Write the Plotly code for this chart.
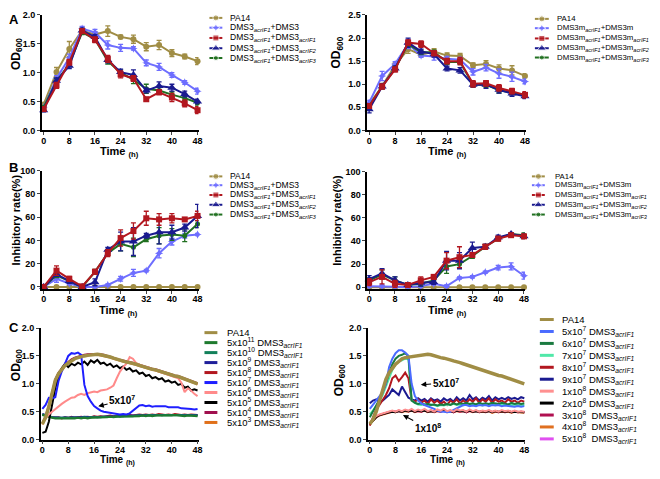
import plotly.graph_objects as go

W, H = 660, 479
# the page body keeps its default 8 px margin, so the figure is drawn 16 px smaller
OX, OY = 8, 8
FW, FH = W - 2 * OX, H - 2 * OY
FONT = "Liberation Sans, Arial, sans-serif"

# ---------------- panel A / B : sampled every 4 h ----------------
hours = [0, 4, 8, 12, 16, 20, 24, 28, 32, 36, 40, 44, 48]

# A left: OD600, DMS3 phages
a1_pa14 = [0.45, 1.01, 1.41, 1.73, 1.66, 1.72, 1.62, 1.58, 1.45, 1.48, 1.34, 1.28, 1.20]
a1_dms3 = [0.40, 0.90, 1.26, 1.76, 1.70, 1.48, 1.43, 1.42, 1.17, 1.10, 0.96, 0.83, 0.68]
a1_f1 = [0.37, 0.78, 1.18, 1.72, 1.57, 1.24, 0.97, 0.90, 0.54, 0.66, 0.57, 0.47, 0.35]
a1_f2 = [0.35, 0.86, 1.12, 1.73, 1.62, 1.22, 1.01, 0.96, 0.69, 0.77, 0.74, 0.63, 0.50]
a1_f3 = [0.40, 0.85, 1.15, 1.70, 1.58, 1.20, 1.00, 0.88, 0.72, 0.69, 0.62, 0.56, 0.48]
a1_pa14_err = [0.03, 0.08, 0.13, 0.06, 0.05, 0.09, 0.03, 0.07, 0.07, 0.08, 0.06, 0.04, 0.06]
a1_dms3_err = [0.03, 0.05, 0.06, 0.04, 0.05, 0.07, 0.06, 0.03, 0.05, 0.06, 0.04, 0.03, 0.05]
a1_f1_err = [0.04, 0.05, 0.05, 0.04, 0.05, 0.06, 0.06, 0.05, 0.03, 0.04, 0.07, 0.06, 0.06]
a1_f2_err = [0.03, 0.05, 0.05, 0.04, 0.04, 0.05, 0.05, 0.09, 0.04, 0.07, 0.06, 0.05, 0.04]
a1_f3_err = [0.03, 0.05, 0.05, 0.04, 0.04, 0.05, 0.05, 0.07, 0.08, 0.05, 0.05, 0.04, 0.04]

# A right: OD600, DMS3m phages
a2_pa14 = [0.56, 0.96, 1.41, 1.76, 1.64, 1.71, 1.62, 1.61, 1.41, 1.44, 1.34, 1.30, 1.18]
a2_dms3m = [0.60, 1.18, 1.44, 1.87, 1.62, 1.60, 1.55, 1.53, 1.27, 1.36, 1.23, 1.16, 1.06]
a2_f1 = [0.53, 0.95, 1.32, 1.90, 1.87, 1.67, 1.50, 1.50, 1.01, 1.02, 0.92, 0.85, 0.77]
a2_f2 = [0.46, 0.95, 1.34, 1.90, 1.71, 1.65, 1.34, 1.30, 0.99, 0.99, 0.88, 0.80, 0.74]
a2_f3 = [0.53, 0.95, 1.34, 1.87, 1.69, 1.69, 1.48, 1.48, 0.99, 0.99, 0.87, 0.82, 0.75]
a2_pa14_err = [0.04, 0.06, 0.05, 0.09, 0.04, 0.06, 0.06, 0.06, 0.05, 0.07, 0.08, 0.10, 0.05]
a2_dms3m_err = [0.05, 0.10, 0.05, 0.10, 0.04, 0.08, 0.05, 0.05, 0.07, 0.07, 0.10, 0.10, 0.05]
a2_f1_err = [0.04, 0.05, 0.05, 0.06, 0.07, 0.05, 0.06, 0.08, 0.07, 0.06, 0.07, 0.06, 0.07]
a2_f2_err = [0.08, 0.05, 0.05, 0.10, 0.05, 0.06, 0.05, 0.06, 0.05, 0.08, 0.07, 0.06, 0.05]
a2_f3_err = [0.04, 0.05, 0.05, 0.05, 0.05, 0.05, 0.05, 0.05, 0.05, 0.06, 0.06, 0.05, 0.05]

# B left: inhibitory rate (%), DMS3 phages
b1_pa14 = [0, 0, 0, 0, 0, 0, 0, 0, 0, 0, 0, 0, 0]
b1_dms3 = [0, 7, 3, 0, 0, 1.7, 7, 12, 14, 29, 39, 44, 45]
b1_f1 = [0, 14, 7, 0.5, 13, 29, 42, 48, 59, 58, 59, 58, 61]
b1_f2 = [0, 11, 5, 0, 4, 32, 39, 39, 44, 47, 47, 51, 61]
b1_f3 = [0, 10, 5, 0, 13, 29, 37, 34, 41, 44, 45, 44, 54]
b1_dms3_err = [0, 3, 1, 0, 0, 1, 2, 3, 1, 4, 3, 2, 1]
b1_f1_err = [0, 4, 2, 1, 2, 3, 7, 7, 6, 5, 4, 1, 4]
b1_f2_err = [0, 2, 2, 0, 3, 2, 8, 12, 2, 10, 6, 3, 10]
b1_f3_err = [0, 2, 2, 0, 2, 2, 6, 8, 2, 7, 5, 5, 3]

# B right: inhibitory rate (%), DMS3m phages
b2_pa14 = [0, 0, 0, 0, 0, 0, 0, 0, 0, 0, 0, 0, 0]
b2_dms3m = [1, 1, 0.5, 0, 1, 3, 1, 8, 9, 13, 17, 18, 10]
b2_f1 = [4.5, 9, 3, 2, 6, 9, 23, 26, 28, 35, 42, 45, 44]
b2_f2 = [7, 12, 6, 2, 4, 4.5, 23, 23, 34, 35, 43, 46, 44]
b2_f3 = [6, 11, 6, 2, 3, 6, 18, 20, 27, 35, 42, 46, 45]
b2_dms3m_err = [1, 1, 1, 0, 1, 1, 1, 1, 1, 1, 2, 3, 3]
b2_f1_err = [3, 6, 3, 1, 3, 2, 7, 9, 2, 2, 2, 1, 2]
b2_f2_err = [3, 4, 3, 1, 3, 2, 8, 7, 5, 2, 2, 1, 2]
b2_f3_err = [2, 4, 3, 1, 2, 2, 6, 3, 2, 2, 2, 1, 2]

# ---------------- panel C : hourly readings ----------------
c_hours = [0, 1, 2, 3, 4, 5, 6, 7, 8, 9, 10, 11, 12, 13, 14, 15, 16, 17, 18, 19,
           20, 21, 22, 23, 24, 25, 26, 27, 28, 29, 30, 31, 32, 33, 34, 35, 36, 37, 38, 39,
           40, 41, 42, 43, 44, 45, 46, 47, 48]

c1_pa14 = [0.28, 0.40, 0.59, 0.85, 1.06, 1.18, 1.26, 1.33, 1.37, 1.42,
           1.45, 1.47, 1.49, 1.50, 1.51, 1.52, 1.52, 1.53, 1.52, 1.51,
           1.49, 1.48, 1.46, 1.44, 1.42, 1.41, 1.39, 1.38, 1.37, 1.35,
           1.33, 1.31, 1.30, 1.28, 1.26, 1.25, 1.23, 1.21, 1.19, 1.18,
           1.16, 1.14, 1.13, 1.11, 1.09, 1.07, 1.05, 1.03, 1.00]
c1_5e11 = [0.44, 0.42, 0.40, 0.39, 0.38, 0.38, 0.37, 0.38, 0.37, 0.38,
           0.38, 0.39, 0.38, 0.39, 0.38, 0.39, 0.39, 0.40, 0.39, 0.40,
           0.40, 0.41, 0.40, 0.41, 0.41, 0.42, 0.41, 0.42, 0.42, 0.42,
           0.42, 0.43, 0.42, 0.43, 0.42, 0.43, 0.43, 0.43, 0.42, 0.43,
           0.43, 0.44, 0.43, 0.43, 0.42, 0.43, 0.43, 0.42, 0.42]
c1_5e10 = [0.45, 0.43, 0.41, 0.40, 0.39, 0.39, 0.38, 0.39, 0.38, 0.39,
           0.39, 0.38, 0.39, 0.40, 0.39, 0.40, 0.40, 0.39, 0.40, 0.41,
           0.41, 0.40, 0.41, 0.42, 0.41, 0.42, 0.42, 0.41, 0.42, 0.43,
           0.43, 0.42, 0.43, 0.44, 0.43, 0.43, 0.44, 0.43, 0.44, 0.44,
           0.43, 0.44, 0.44, 0.43, 0.44, 0.43, 0.44, 0.43, 0.43]
c1_5e9 = [0.46, 0.44, 0.42, 0.40, 0.40, 0.39, 0.39, 0.40, 0.39, 0.40,
          0.40, 0.39, 0.40, 0.41, 0.40, 0.40, 0.41, 0.40, 0.41, 0.41,
          0.42, 0.41, 0.42, 0.42, 0.43, 0.42, 0.43, 0.43, 0.42, 0.43,
          0.44, 0.43, 0.44, 0.43, 0.44, 0.44, 0.45, 0.44, 0.44, 0.45,
          0.44, 0.45, 0.44, 0.45, 0.44, 0.44, 0.45, 0.44, 0.44]
c1_5e8 = [0.45, 0.43, 0.41, 0.40, 0.39, 0.40, 0.38, 0.40, 0.39, 0.41,
          0.39, 0.40, 0.41, 0.40, 0.41, 0.40, 0.42, 0.41, 0.42, 0.41,
          0.42, 0.43, 0.42, 0.43, 0.42, 0.44, 0.43, 0.44, 0.43, 0.44,
          0.45, 0.44, 0.45, 0.44, 0.45, 0.44, 0.46, 0.45, 0.44, 0.45,
          0.44, 0.46, 0.45, 0.44, 0.45, 0.44, 0.45, 0.44, 0.44]
c1_5e7 = [0.55, 0.62, 0.75, 0.74, 0.76, 1.05, 1.22, 1.38, 1.50, 1.55,
          1.54, 1.56, 1.52, 0.98, 0.78, 0.68, 0.60, 0.56, 0.52, 0.50,
          0.49, 0.48, 0.47, 0.46, 0.45, 0.46, 0.45, 0.47, 0.52, 0.57,
          0.61, 0.62, 0.60, 0.61, 0.59, 0.60, 0.60, 0.59, 0.60, 0.58,
          0.58, 0.57, 0.58, 0.56, 0.56, 0.55, 0.55, 0.54, 0.55]
c1_5e6 = [0.30, 0.38, 0.45, 0.50, 0.55, 0.60, 0.64, 0.68, 0.72, 0.75,
          0.76, 0.80, 0.82, 0.80, 0.83, 0.84, 0.86, 0.85, 0.88, 0.89,
          0.90, 0.93, 0.97, 1.10, 1.22, 1.30, 1.36, 1.48, 1.45, 1.37,
          1.34, 1.32, 1.30, 1.29, 1.26, 1.25, 1.22, 1.20, 1.18, 1.16,
          1.15, 1.12, 1.10, 1.02, 0.85, 0.92, 0.88, 0.82, 0.78]
c1_5e5 = [0.12, 0.14, 0.32, 0.62, 0.92, 1.12, 1.28, 1.36, 1.30, 1.36,
          1.33, 1.38, 1.35, 1.40, 1.34, 1.42, 1.38, 1.43, 1.36, 1.38,
          1.33, 1.36, 1.30, 1.33, 1.28, 1.31, 1.25, 1.28, 1.22, 1.24,
          1.18, 1.20, 1.14, 1.16, 1.10, 1.12, 1.08, 1.10, 1.04, 1.06,
          1.02, 1.04, 0.98, 1.00, 0.93, 0.95, 0.88, 0.90, 0.88]
c1_5e4 = [0.29, 0.42, 0.61, 0.86, 1.08, 1.20, 1.28, 1.35, 1.39, 1.44,
          1.47, 1.49, 1.51, 1.52, 1.53, 1.53, 1.54, 1.54, 1.53, 1.52,
          1.50, 1.49, 1.47, 1.45, 1.43, 1.42, 1.40, 1.39, 1.38, 1.36,
          1.34, 1.32, 1.31, 1.29, 1.27, 1.26, 1.24, 1.22, 1.20, 1.19,
          1.17, 1.15, 1.14, 1.12, 1.10, 1.08, 1.06, 1.04, 1.01]
c1_5e3 = [0.27, 0.39, 0.58, 0.84, 1.05, 1.17, 1.25, 1.32, 1.38, 1.43,
          1.46, 1.48, 1.50, 1.51, 1.52, 1.53, 1.53, 1.52, 1.51, 1.50,
          1.48, 1.47, 1.45, 1.43, 1.41, 1.40, 1.38, 1.37, 1.36, 1.34,
          1.32, 1.30, 1.29, 1.27, 1.25, 1.24, 1.22, 1.20, 1.18, 1.17,
          1.15, 1.13, 1.12, 1.10, 1.08, 1.06, 1.04, 1.02, 0.99]

c2_pa14 = [0.28, 0.36, 0.50, 0.70, 0.90, 1.08, 1.20, 1.28, 1.35, 1.40,
           1.45, 1.47, 1.48, 1.49, 1.50, 1.51, 1.52, 1.52, 1.53, 1.52,
           1.50, 1.49, 1.47, 1.46, 1.45, 1.43, 1.41, 1.40, 1.38, 1.36,
           1.34, 1.32, 1.30, 1.28, 1.27, 1.25, 1.23, 1.21, 1.19, 1.17,
           1.15, 1.14, 1.12, 1.10, 1.08, 1.06, 1.04, 1.02, 1.00]
c2_5e7 = [0.55, 0.62, 0.70, 0.78, 0.85, 1.00, 1.30, 1.45, 1.55, 1.60,
          1.60, 1.56, 1.50, 1.00, 0.78, 0.70, 0.65, 0.62, 0.60, 0.58,
          0.55, 0.52, 0.50, 0.50, 0.49, 0.50, 0.53, 0.56, 0.60, 0.62,
          0.62, 0.60, 0.61, 0.60, 0.62, 0.61, 0.62, 0.60, 0.62, 0.61,
          0.62, 0.60, 0.61, 0.60, 0.60, 0.59, 0.60, 0.59, 0.60]
c2_6e7 = [0.40, 0.50, 0.60, 0.72, 0.85, 1.00, 1.20, 1.35, 1.45, 1.50,
          1.52, 1.55, 1.50, 0.70, 0.66, 0.64, 0.65, 0.62, 0.64, 0.62,
          0.63, 0.61, 0.63, 0.62, 0.64, 0.62, 0.65, 0.63, 0.65, 0.64,
          0.66, 0.64, 0.65, 0.63, 0.66, 0.64, 0.65, 0.64, 0.66, 0.65,
          0.64, 0.66, 0.65, 0.63, 0.66, 0.64, 0.65, 0.64, 0.65]
c2_7e7 = [0.45, 0.52, 0.60, 0.70, 0.80, 0.95, 1.10, 1.25, 1.35, 1.40,
          1.42, 1.45, 1.44, 0.70, 0.66, 0.63, 0.62, 0.64, 0.61, 0.63,
          0.62, 0.60, 0.62, 0.61, 0.63, 0.62, 0.64, 0.62, 0.63, 0.61,
          0.63, 0.62, 0.64, 0.62, 0.63, 0.61, 0.63, 0.62, 0.64, 0.62,
          0.63, 0.62, 0.63, 0.61, 0.62, 0.63, 0.61, 0.62, 0.62]
c2_8e7 = [0.25, 0.40, 0.55, 0.62, 0.70, 0.80, 0.92, 1.10, 1.15, 1.05,
          1.12, 1.20, 1.10, 0.70, 0.68, 0.72, 0.66, 0.70, 0.64, 0.72,
          0.66, 0.70, 0.64, 0.68, 0.62, 0.70, 0.66, 0.72, 0.65, 0.70,
          0.66, 0.72, 0.68, 0.74, 0.66, 0.72, 0.68, 0.74, 0.66, 0.72,
          0.68, 0.70, 0.66, 0.72, 0.68, 0.70, 0.66, 0.70, 0.68]
c2_9e7 = [0.65, 0.70, 0.72, 0.68, 0.70, 0.75, 0.80, 0.90, 0.85, 0.80,
          0.95, 0.85, 0.75, 0.72, 0.70, 0.74, 0.70, 0.73, 0.68, 0.74,
          0.70, 0.72, 0.68, 0.74, 0.70, 0.73, 0.68, 0.76, 0.70, 0.74,
          0.70, 0.80, 0.72, 0.76, 0.70, 0.75, 0.72, 0.78, 0.70, 0.76,
          0.72, 0.75, 0.72, 0.76, 0.73, 0.75, 0.72, 0.76, 0.74]
c2_1e8 = [0.30, 0.36, 0.42, 0.45, 0.47, 0.48, 0.50, 0.52, 0.50, 0.53,
          0.51, 0.54, 0.52, 0.55, 0.51, 0.54, 0.52, 0.55, 0.51, 0.53,
          0.50, 0.54, 0.52, 0.55, 0.51, 0.53, 0.50, 0.54, 0.52, 0.53,
          0.50, 0.54, 0.51, 0.53, 0.50, 0.52, 0.51, 0.53, 0.50, 0.52,
          0.50, 0.53, 0.51, 0.52, 0.50, 0.52, 0.50, 0.51, 0.50]
c2_2e8 = [0.28, 0.34, 0.40, 0.44, 0.46, 0.47, 0.49, 0.50, 0.49, 0.51,
          0.50, 0.52, 0.51, 0.52, 0.50, 0.52, 0.51, 0.52, 0.50, 0.51,
          0.50, 0.52, 0.51, 0.52, 0.50, 0.51, 0.50, 0.52, 0.51, 0.51,
          0.50, 0.52, 0.50, 0.51, 0.50, 0.51, 0.50, 0.51, 0.49, 0.51,
          0.50, 0.51, 0.50, 0.51, 0.49, 0.50, 0.50, 0.50, 0.49]
c2_3e8 = [0.29, 0.35, 0.41, 0.44, 0.46, 0.48, 0.49, 0.51, 0.50, 0.52,
          0.50, 0.53, 0.51, 0.53, 0.50, 0.52, 0.50, 0.53, 0.50, 0.52,
          0.50, 0.52, 0.50, 0.53, 0.50, 0.52, 0.49, 0.52, 0.50, 0.52,
          0.49, 0.52, 0.50, 0.52, 0.49, 0.51, 0.50, 0.52, 0.49, 0.51,
          0.49, 0.51, 0.50, 0.51, 0.49, 0.51, 0.49, 0.50, 0.49]
c2_4e8 = [0.28, 0.35, 0.40, 0.43, 0.45, 0.47, 0.48, 0.50, 0.49, 0.51,
          0.49, 0.51, 0.50, 0.52, 0.49, 0.51, 0.50, 0.52, 0.49, 0.51,
          0.49, 0.51, 0.50, 0.52, 0.49, 0.51, 0.49, 0.51, 0.50, 0.51,
          0.49, 0.51, 0.49, 0.51, 0.49, 0.50, 0.49, 0.51, 0.48, 0.50,
          0.49, 0.50, 0.49, 0.50, 0.48, 0.50, 0.49, 0.49, 0.48]
c2_5e8 = [0.29, 0.34, 0.41, 0.44, 0.46, 0.47, 0.49, 0.50, 0.50, 0.51,
          0.50, 0.52, 0.50, 0.52, 0.50, 0.51, 0.50, 0.52, 0.50, 0.51,
          0.49, 0.51, 0.50, 0.52, 0.49, 0.51, 0.49, 0.52, 0.50, 0.51,
          0.49, 0.51, 0.50, 0.51, 0.49, 0.51, 0.49, 0.51, 0.49, 0.50,
          0.49, 0.51, 0.49, 0.50, 0.49, 0.50, 0.49, 0.50, 0.49]

# ---------------- colours ----------------
OLIVE = "#A08D45"
LBLUE = "#6E6EFF"
DRED = "#B2171F"
NAVY = "#1A1A8F"
DGREEN = "#207020"

fig = go.Figure()


# page pixel -> paper fraction
def px_x(p):
    return (p - OX) / FW


def px_y(p):
    return 1 - (p - OY) / FH


# subplot boxes in page pixels: (left, right, top, bottom, xrange, yrange, ytick step, y format)
boxes = {
    "1": (41, 199, 10, 128, [-0.6, 48.3], [0, 2.0], 0.5, ".1f"),
    "2": (369, 529, 10, 128, [-0.6, 48.3], [0, 2.5], 0.5, ".1f"),
    "3": (41, 199, 169, 290, [-0.6, 48.3], [-1.7, 100], 20, "d"),
    "4": (369, 528, 170, 290, [-0.6, 48.3], [-1.4, 100], 20, "d"),
    "5": (40, 199, 330, 444, [-0.5, 48.3], [0, 2.0], 0.5, ".1f"),
    "6": (370, 528, 330, 444, [-0.5, 48.2], [0, 2.0], 0.5, ".1f"),
}

tickfont = dict(family=FONT, size=9, color="black", weight="bold")
for k, (l, r, t, b, xr, yr, ys, yf) in boxes.items():
    xn = "xaxis" if k == "1" else "xaxis" + k
    yn = "yaxis" if k == "1" else "yaxis" + k
    xid = "x" if k == "1" else "x" + k
    yid = "y" if k == "1" else "y" + k
    ytop = 2.5 if k == "2" else (100 if k in ("3", "4") else 2.0)
    yvals = []
    v = 0.0
    while v <= ytop + 1e-9:
        yvals.append(round(v, 2))
        v += ys
    fig.layout[xn] = dict(domain=[px_x(l), px_x(r)], range=xr, anchor=yid,
                          tickvals=[0, 8, 16, 24, 32, 40, 48], ticks="outside",
                          ticklen=3, tickwidth=1.3, showline=True, linecolor="black",
                          linewidth=1.5, showgrid=False, zeroline=False,
                          ticklabelstandoff=-2, tickfont=tickfont)
    fig.layout[yn] = dict(domain=[px_y(b), px_y(t)], range=yr, anchor=xid,
                          tickvals=yvals, tickformat=yf, ticks="outside",
                          ticklen=3, tickwidth=1.3, showline=True, linecolor="black",
                          linewidth=1.5, showgrid=False, zeroline=False,
                          tickfont=tickfont)


def ax_ids(k):
    return ("x" if k == "1" else "x" + k), ("y" if k == "1" else "y" + k)


def add_points(k, y, err, color, symbol, size):
    xa, ya = ax_ids(k)
    ey = dict(type="data", array=err, color=color, thickness=1.3, width=2.5) if err else None
    fig.add_trace(go.Scatter(x=hours, y=y, xaxis=xa, yaxis=ya, mode="lines+markers",
                             line=dict(color=color, width=2),
                             marker=dict(symbol=symbol, size=size, color=color),
                             error_y=ey, cliponaxis=False, showlegend=False))


def add_curve(k, y, color, width=2):
    xa, ya = ax_ids(k)
    fig.add_trace(go.Scatter(x=c_hours, y=y, xaxis=xa, yaxis=ya, mode="lines",
                             line=dict(color=color, width=width),
                             cliponaxis=False, showlegend=False))


# panel A
add_points("1", a1_pa14, a1_pa14_err, OLIVE, "circle", 6)
add_points("1", a1_dms3, a1_dms3_err, LBLUE, "star-diamond", 6)
add_points("1", a1_f3, a1_f3_err, DGREEN, "circle", 5)
add_points("1", a1_f2, a1_f2_err, NAVY, "triangle-up", 8)
add_points("1", a1_f1, a1_f1_err, DRED, "square", 6)

add_points("2", a2_pa14, a2_pa14_err, OLIVE, "circle", 6)
add_points("2", a2_dms3m, a2_dms3m_err, LBLUE, "star-diamond", 6)
add_points("2", a2_f3, a2_f3_err, DGREEN, "circle", 5)
add_points("2", a2_f2, a2_f2_err, NAVY, "triangle-up", 8)
add_points("2", a2_f1, a2_f1_err, DRED, "square", 6)

# panel B
add_points("3", b1_pa14, None, OLIVE, "circle", 6)
add_points("3", b1_dms3, b1_dms3_err, LBLUE, "star-diamond", 6)
add_points("3", b1_f3, b1_f3_err, DGREEN, "circle", 5)
add_points("3", b1_f2, b1_f2_err, NAVY, "triangle-up", 8)
add_points("3", b1_f1, b1_f1_err, DRED, "square", 6)

add_points("4", b2_pa14, None, OLIVE, "circle", 6)
add_points("4", b2_dms3m, b2_dms3m_err, LBLUE, "star-diamond", 6)
add_points("4", b2_f3, b2_f3_err, DGREEN, "circle", 5)
add_points("4", b2_f2, b2_f2_err, NAVY, "triangle-up", 8)
add_points("4", b2_f1, b2_f1_err, DRED, "square", 6)

# panel C left
add_curve("5", c1_5e3, "#E0701A")
add_curve("5", c1_5e4, "#A0104E")
add_curve("5", c1_5e8, DRED)
add_curve("5", c1_5e9, "#1F1F9A")
add_curve("5", c1_5e10, "#12805A")
add_curve("5", c1_5e11, "#1E7A2E")
add_curve("5", c1_5e5, "black")
add_curve("5", c1_5e6, "#FF8A8A")
add_curve("5", c1_5e7, "#1F1FFF")
add_curve("5", c1_pa14, OLIVE, 3.5)

# panel C right
add_curve("6", c2_5e8, "#E050F0")
add_curve("6", c2_4e8, "#E07020")
add_curve("6", c2_3e8, "#B01050")
add_curve("6", c2_2e8, "black")
add_curve("6", c2_9e7, "#1A1A90")
add_curve("6", c2_8e7, DRED)
add_curve("6", c2_7e7, "#50E8A8")
add_curve("6", c2_6e7, "#1A7A40")
add_curve("6", c2_5e7, "#4A6BFF")
add_curve("6", c2_1e8, "#FF9090")
add_curve("6", c2_pa14, OLIVE, 3.5)

# ---------------- hand-placed legends (pixel overlay axis) ----------------
fig.layout["xaxis7"] = dict(domain=[0, 1], range=[OX, OX + FW], visible=False, anchor="y7", fixedrange=True)
fig.layout["yaxis7"] = dict(domain=[0, 1], range=[OY + FH, OY], visible=False, anchor="x7", fixedrange=True)

annotations = []


def legend_block(x0, x1, xt, ys, items, fsize=8.5):
    for y, (label, color, symbol, msize, lw) in zip(ys, items):
        xs = [x0, (x0 + x1) / 2, x1]
        fig.add_trace(go.Scatter(x=xs, y=[y, y, y], xaxis="x7", yaxis="y7",
                                 mode="lines+markers" if symbol else "lines",
                                 line=dict(color=color, width=lw),
                                 marker=dict(symbol=symbol or "circle", size=[0, msize, 0], color=color),
                                 showlegend=False, hoverinfo="skip"))
        annotations.append(dict(x=xt, y=y, xref="x7", yref="y7", text=label, showarrow=False,
                                xanchor="left", yanchor="middle",
                                font=dict(family=FONT, size=fsize, color="black")))


S = "<sub><i>acrIF1</i></sub>"


def sub(s):
    return "<sub><i>" + s + "</i></sub>"


ab_items = [
    ("PA14", OLIVE, "circle", 6, 2),
    ("DMS3" + S + "+DMS3", LBLUE, "star-diamond", 6, 2),
    ("DMS3" + S + "+DMS3" + sub("acrIF1"), DRED, "square", 6, 2),
    ("DMS3" + S + "+DMS3" + sub("acrIF2"), NAVY, "triangle-up", 8, 2),
    ("DMS3" + S + "+DMS3" + sub("acrIF3"), DGREEN, "circle", 5, 2),
]
abm_items = [
    ("PA14", OLIVE, "circle", 6, 2),
    ("DMS3m" + S + "+DMS3m", LBLUE, "star-diamond", 6, 2),
    ("DMS3m" + S + "+DMS3m" + sub("acrIF1"), DRED, "square", 6, 2),
    ("DMS3m" + S + "+DMS3m" + sub("acrIF2"), NAVY, "triangle-up", 8, 2),
    ("DMS3m" + S + "+DMS3m" + sub("acrIF3"), DGREEN, "circle", 5, 2),
]
legend_block(210, 223, 229, [13, 23, 33.5, 44, 54], ab_items, 8.5)
legend_block(538, 552, 558, [14, 23.5, 34, 44, 53.5], abm_items, 7.8)
legend_block(210, 223, 229, [175, 184, 194, 204, 214], ab_items, 8.5)
legend_block(535, 548, 556, [175, 184, 194, 204, 214], abm_items, 7.8)

c1_items = [
    ("PA14", OLIVE, None, 0, 3),
    ("5x10<sup>11</sup> DMS3" + S, "#1E7A2E", None, 0, 3),
    ("5x10<sup>10</sup> DMS3" + S, "#12805A", None, 0, 3),
    ("5x10<sup>9</sup> DMS3" + S, "#1F1F9A", None, 0, 3),
    ("5x10<sup>8</sup> DMS3" + S, DRED, None, 0, 3),
    ("5x10<sup>7</sup> DMS3" + S, "#1F1FFF", None, 0, 3),
    ("5x10<sup>6</sup> DMS3" + S, "#FF8A8A", None, 0, 3),
    ("5x10<sup>5</sup> DMS3" + S, "black", None, 0, 3),
    ("5x10<sup>4</sup> DMS3" + S, "#A0104E", None, 0, 3),
    ("5x10<sup>3</sup> DMS3" + S, "#E0701A", None, 0, 3),
]
legend_block(205, 218, 226, [334.7 + 10.2 * i for i in range(10)], c1_items, 9.5)

c2_items = [
    ("PA14", OLIVE, None, 0, 3),
    ("5x10<sup>7</sup> DMS3" + S, "#4A6BFF", None, 0, 3),
    ("6x10<sup>7</sup> DMS3" + S, "#1A7A40", None, 0, 3),
    ("7x10<sup>7</sup> DMS3" + S, "#50E8A8", None, 0, 3),
    ("8x10<sup>7</sup> DMS3" + S, DRED, None, 0, 3),
    ("9x10<sup>7</sup> DMS3" + S, "#1A1A90", None, 0, 3),
    ("1x10<sup>8</sup> DMS3" + S, "#FF9090", None, 0, 3),
    ("2x10<sup>8</sup> DMS3" + S, "black", None, 0, 3),
    ("3x10<sup>8</sup>  DMS3" + S, "#B01050", None, 0, 3),
    ("4x10<sup>8</sup>  DMS3" + S, "#E07020", None, 0, 3),
    ("5x10<sup>8</sup>  DMS3" + S, "#E050F0", None, 0, 3),
]
legend_block(543, 557, 563, [321.3 + 12.2 * i for i in range(11)], c2_items, 9.5)


# ---------------- axis titles, panel letters, arrows ----------------
def label(x, y, text, size=11, angle=0):
    annotations.append(dict(x=x, y=y, xref="x7", yref="y7", text=text, showarrow=False,
                            textangle=angle, xanchor="center", yanchor="middle",
                            font=dict(family=FONT, size=size, color="black", weight="bold")))


OD = "OD<sub>600</sub>"
TIME = "Time <sub>(h)</sub>"
label(16, 50, OD, 12, -90)
label(339, 48, OD, 12, -90)
label(15, 219, "Inhibitory rate(%)", 11, -90)
label(339, 220, "Inhibitory rate(%)", 11, -90)
label(16, 368, OD, 12, -90)
label(341, 383, OD, 12, -90)
label(119, 150, TIME, 11)
label(450, 150, TIME, 11)
label(118, 313, TIME, 11)
label(450, 313, TIME, 11)
label(117, 465.5, TIME, 10)
label(450, 465.5, TIME, 10)
label(13, 15, "A", 13)
label(13, 166, "B", 13)
label(13, 329, "C", 13)


def pointer(tip_x, tip_y, text_x, text_y, text):
    annotations.append(dict(x=tip_x, y=tip_y, xref="x7", yref="y7", ax=text_x, ay=text_y,
                            axref="x7", ayref="y7", text=text, showarrow=True,
                            arrowhead=2, arrowsize=1, arrowwidth=1.1, arrowcolor="black",
                            font=dict(family=FONT, size=10, color="black", weight="bold")))


pointer(98, 410, 122, 404, "5x10<sup>7</sup>")
pointer(423, 388, 448, 386, "5x10<sup>7</sup>")
pointer(405, 419, 430, 432, "1x10<sup>8</sup>")

fig.update_layout(width=FW, height=FH, margin=dict(l=0, r=0, t=0, b=0),
                  paper_bgcolor="white", plot_bgcolor="rgba(0,0,0,0)",
                  showlegend=False, annotations=annotations,
                  font=dict(family=FONT, color="black"))

fig.write_html("out.html")
